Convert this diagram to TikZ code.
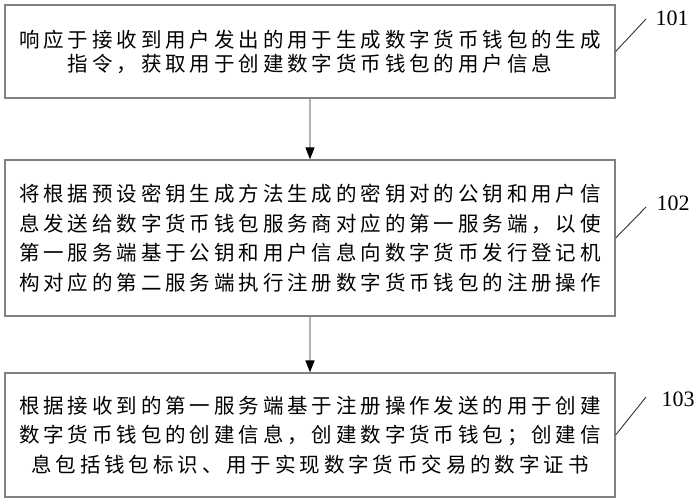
\documentclass[tikz,border=0pt]{standalone}
\usepackage{fontspec}
\setmainfont{Liberation Serif}
\newfontfamily\cjk[LetterSpace=19]{Noto Sans CJK SC}
\usetikzlibrary{arrows.meta}

\begin{document}
\begin{tikzpicture}[x=1pt,y=-1pt,every node/.style={black},
	stepbox/.style={draw=black!50,line width=1.3pt,inner sep=0pt,minimum width=610pt,align=center,font=\cjk\fontsize{20.5}{29.5}\selectfont},
	flow/.style={draw=black!30,line width=1.5pt,-{Triangle[length=12pt,width=9pt,color=black,fill=black]}},
	tagline/.style={draw=black!80,line width=0.9pt},
	tagnum/.style={inner sep=0pt,font=\fontsize{22}{22}\selectfont}]
	\useasboundingbox (0,0) rectangle (700,503);
%	\coordinate (    ) at (X      , Y      );
	\coordinate (s1) at (310    , 51.5   );
	\coordinate (s2) at (310    , 238    );
	\coordinate (s3) at (310    , 435    );
	\coordinate (t1) at (646    , 19     );
	\coordinate (t2) at (646    , 207    );
	\coordinate (t3) at (646    , 397    );

	\node[stepbox,minimum height=93pt,font=\cjk\fontsize{20.5}{24}\selectfont] (step1) at (s1)
		{响应于接收到用户发出的用于生成数字货币钱包的生成\\指令，获取用于创建数字货币钱包的用户信息};
	\node[stepbox,minimum height=156pt] (step2) at (s2)
		{将根据预设密钥生成方法生成的密钥对的公钥和用户信\\息发送给数字货币钱包服务商对应的第一服务端，以使\\第一服务端基于公钥和用户信息向数字货币发行登记机\\构对应的第二服务端执行注册数字货币钱包的注册操作};
	\node[stepbox,minimum height=124pt] (step3) at (s3)
		{根据接收到的第一服务端基于注册操作发送的用于创建\\数字货币钱包的创建信息，创建数字货币钱包；创建信\\息包括钱包标识、用于实现数字货币交易的数字证书};

	\node[tagnum] (n101) at (672, 18 ) {101};
	\node[tagnum] (n102) at (673, 203) {102};
	\node[tagnum] (n103) at (678, 399) {103};

	\draw[flow] (step1) -- (step2);
	\draw[flow] (step2) -- (step3);

	\draw[tagline] (step1.east) -- (t1);
	\draw[tagline] (step2.east) -- (t2);
	\draw[tagline] (step3.east) -- (t3);
\end{tikzpicture}
\end{document}
